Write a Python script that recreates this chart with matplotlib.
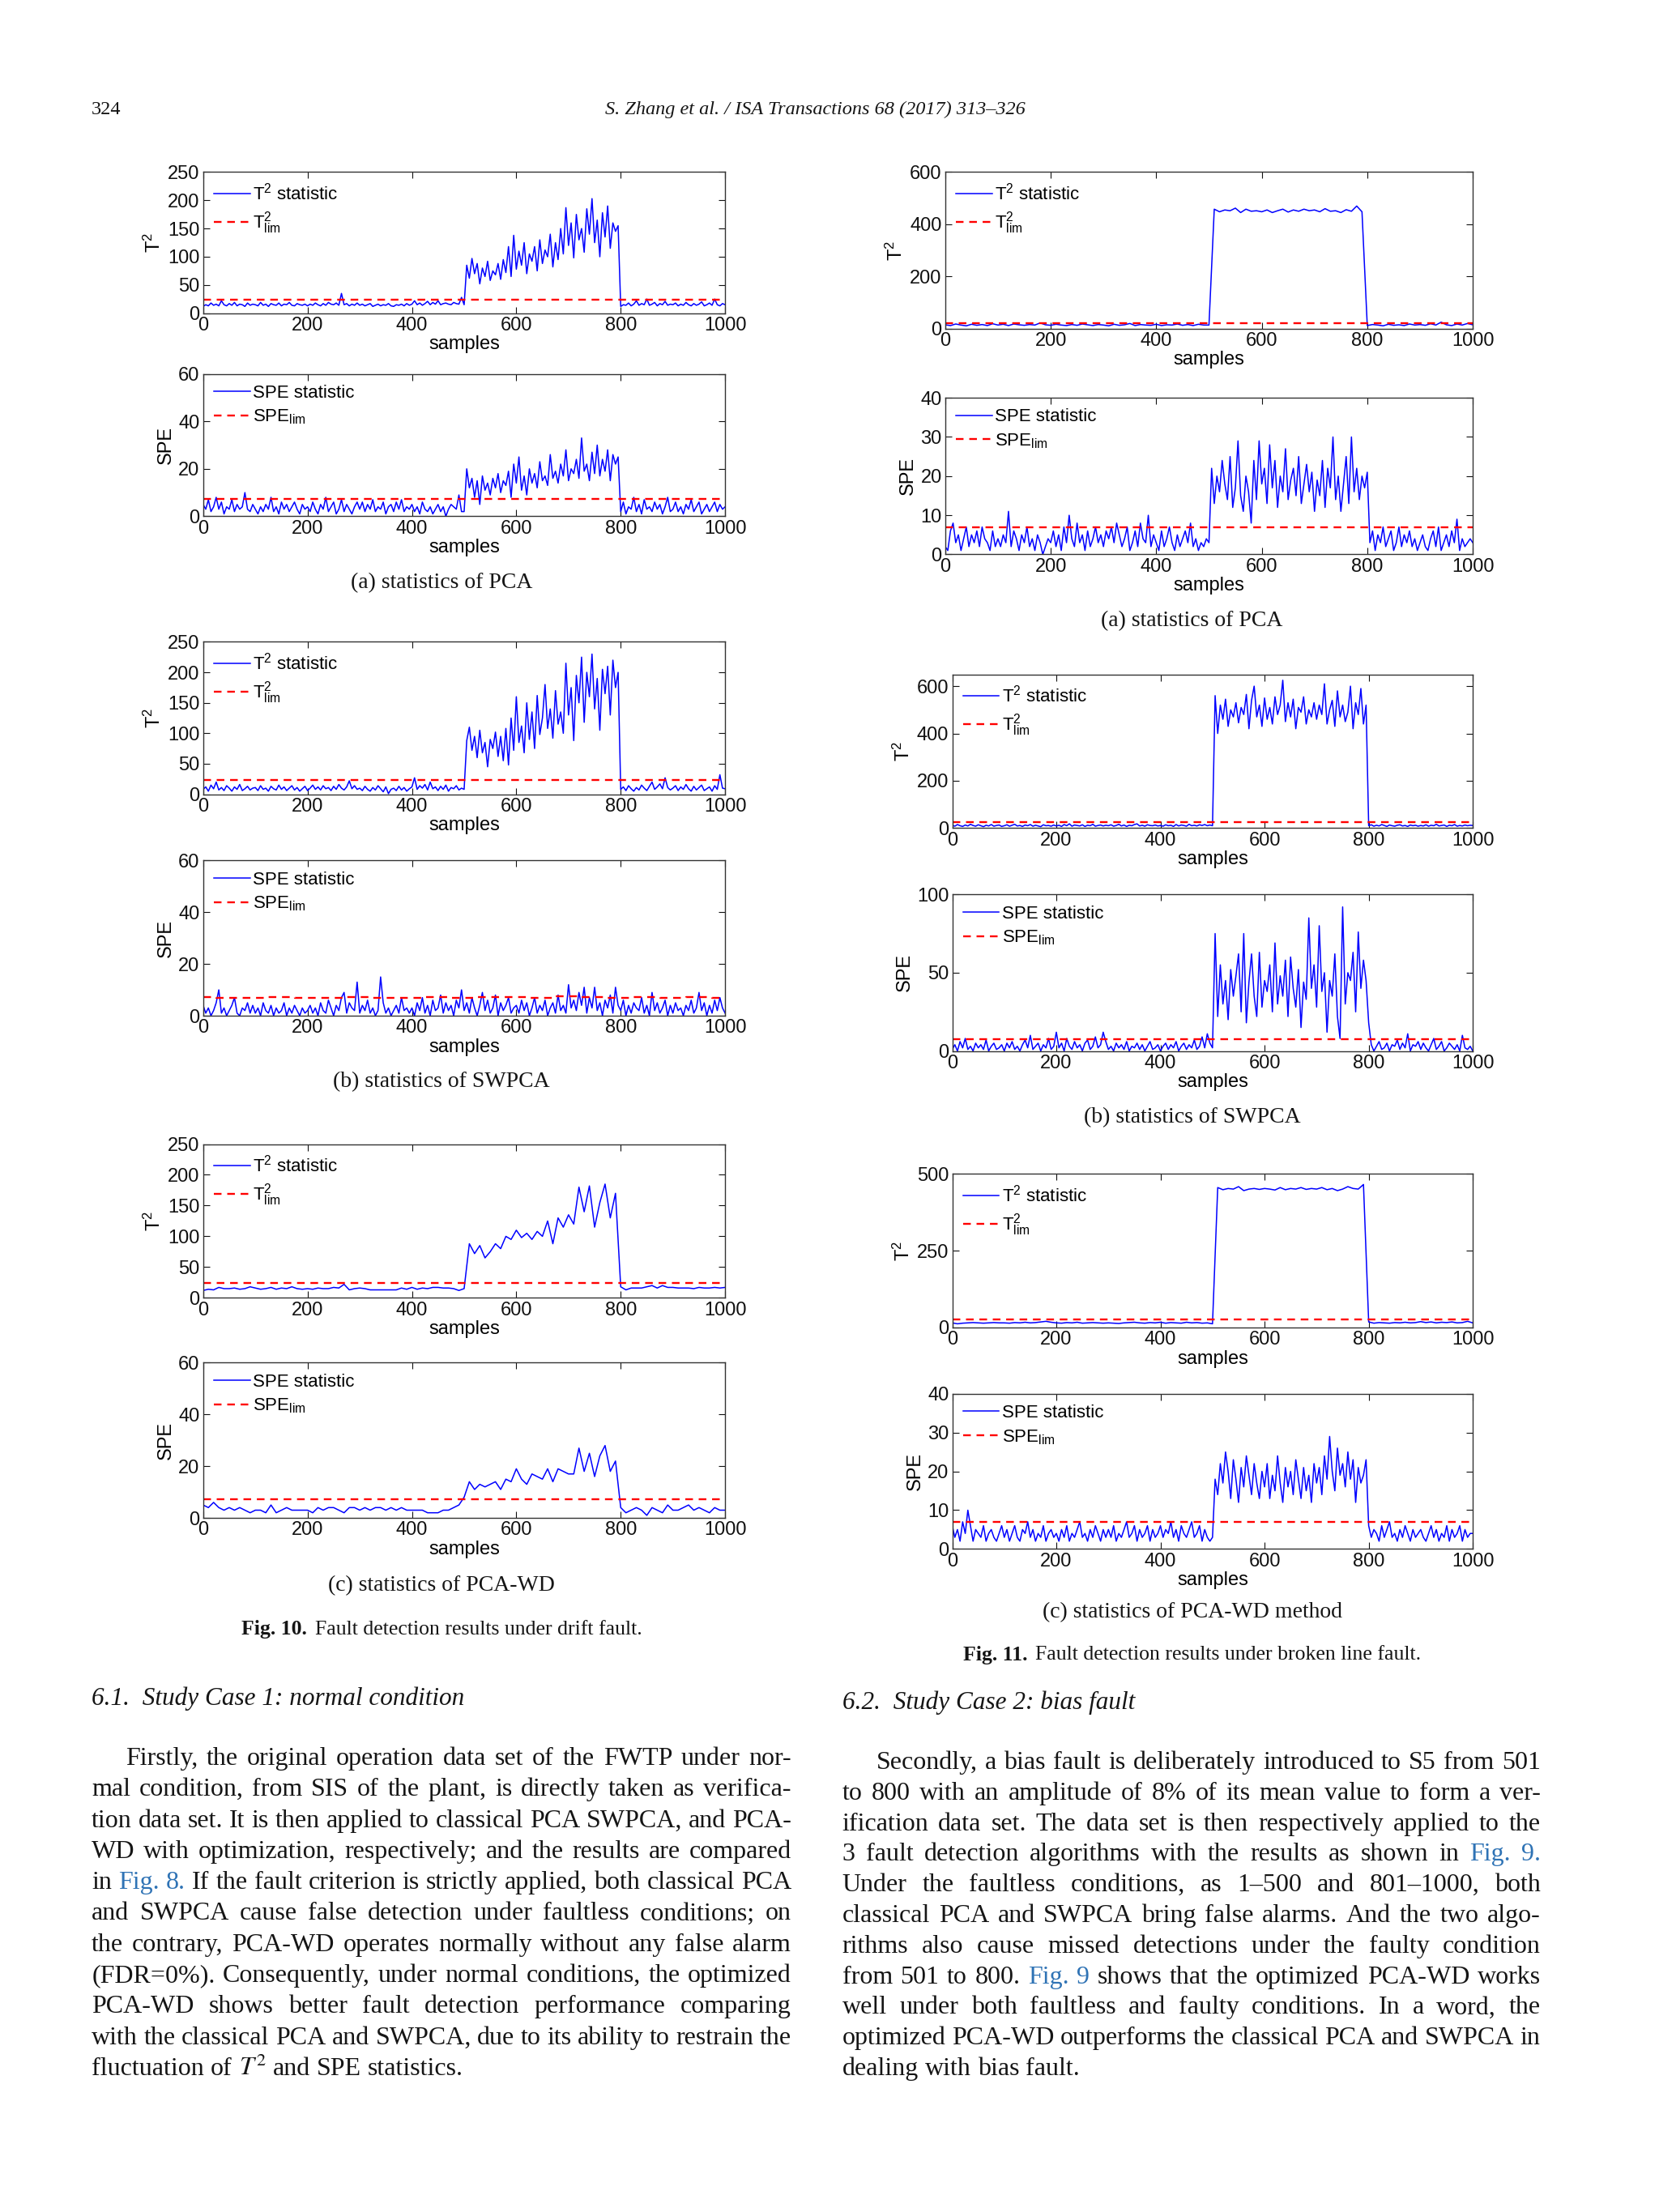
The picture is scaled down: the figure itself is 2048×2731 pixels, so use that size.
import numpy as np
import matplotlib
matplotlib.use('Agg')
import matplotlib.pyplot as plt

plt.rcParams['font.family'] = ['Liberation Sans Narrow', 'Liberation Sans', 'DejaVu Sans']
plt.rcParams['mathtext.fontset'] = 'custom'
plt.rcParams['mathtext.rm'] = 'Liberation Sans'
plt.rcParams['mathtext.it'] = 'Liberation Sans:italic'

# ---------------- data ----------------
# fine series: one value every 5 samples, coarse: every 10 samples
fig10_pca_t2 = [
    12, 15, 13, 18, 14, 16, 13, 22, 15, 13, 17, 14, 19, 13, 16, 15, 12, 18, 14, 16,
    15, 13, 19, 14, 16, 12, 17, 15, 14, 18, 13, 16, 15, 19, 14, 13, 17, 15, 14, 16,
    13, 16, 14, 18, 15, 13, 17, 14, 19, 16, 15, 18, 14, 35, 15, 17, 13, 16, 14, 18,
    14, 16, 13, 15, 17, 12, 14, 16, 13, 15, 14, 17, 13, 12, 15, 14, 16, 13, 17, 14,
    16, 22, 15, 18, 14, 17, 21, 15, 19, 16, 22, 15, 17, 18, 16, 15, 19, 17, 16, 28,
    15, 85, 62, 97, 70, 88, 52, 80, 65, 92, 58, 75, 68, 88, 60, 95, 72, 118, 65, 138,
    78, 110, 85, 125, 70, 105, 92, 118, 75, 130, 88, 112, 100, 140, 82, 125, 95, 150, 105, 187,
    120, 160, 98, 175, 130, 150, 108, 185, 140, 203, 125, 165, 100, 178, 135, 190, 115, 160, 145, 155,
    12, 15, 14, 18, 13, 16, 22, 14, 17, 15, 25, 14, 16, 19, 13, 17, 15, 21, 14, 16,
    15, 18, 13, 16, 14, 19, 15, 13, 17, 14, 16, 20, 13, 15, 18, 14, 25, 15, 13, 17,
    15]
fig10_pca_spe = [
    5, 3, 7, 2, 4, 8, 3, 6, 1, 4, 3, 7, 2, 5, 3, 4, 10, 3, 2, 5,
    3, 1, 4, 2, 5, 3, 8, 2, 4, 1, 6, 3, 5, 2, 4, 6, 3, 1, 5, 3,
    4, 2, 6, 3, 1, 5, 3, 8, 2, 4, 6, 1, 3, 7, 2, 5, 3, 1, 4, 6,
    3, 6, 2, 5, 3, 7, 2, 4, 3, 6, 1, 4, 5, 2, 6, 3, 7, 2, 4, 3,
    5, 2, 4, 1, 6, 3, 2, 4, 1, 3, 5, 2, 4, 0, 3, 5, 4, 3, 9, 2,
    2, 20, 12, 16, 8, 15, 5, 17, 11, 14, 9, 16, 12, 18, 10, 15, 13, 19, 8, 22,
    14, 25, 11, 17, 9, 20, 14, 18, 12, 23, 15, 17, 13, 26, 16, 19, 14, 22, 17, 28,
    15, 20, 18, 24, 16, 33, 19, 22, 15, 27, 18, 30, 17, 24, 19, 28, 15, 26, 22, 25,
    2, 6, 1, 4, 3, 8, 2, 5, 1, 7, 3, 4, 2, 6, 3, 5, 1, 4, 8, 2,
    3, 6, 2, 4, 1, 5, 3, 7, 2, 4, 6, 1, 3, 5, 2, 4, 6, 2, 5, 3,
    4]
fig10_swpca_t2 = [
    8, 12, 5, 15, 9, 20, 7, 11, 6, 14, 10, 5, 12, 8, 16, 6, 9, 13, 7, 10,
    11, 6, 14, 8, 10, 5, 13, 9, 7, 15, 8, 12, 6, 10, 14, 7, 11, 5, 9, 13,
    6, 10, 15, 8, 12, 7, 14, 9, 11, 6, 13, 8, 16, 10, 7, 12, 22, 9, 14, 8,
    10, 6, 13, 8, 5, 11, 7, 14, 9, 4, 12, 1, 8, 10, 6, 13, 7, 11, 5, 9,
    12, 27, 8, 14, 10, 16, 7, 20, 9, 12, 6, 13, 8, 15, 5, 11, 9, 14, 7, 10,
    8, 88, 110, 72, 95, 60, 105, 68, 85, 45, 90, 75, 102, 62, 95, 55, 108, 48, 125, 72,
    160, 85, 112, 68, 150, 90, 135, 75, 162, 98, 125, 180, 108, 140, 92, 170, 115, 135, 100, 215,
    130, 175, 88, 195, 150, 225, 118, 200, 160, 230, 140, 190, 105, 205, 165, 210, 130, 220, 175, 200,
    8, 12, 6, 14, 9, 5, 11, 7, 15, 10, 6, 13, 20, 8, 12, 17, 9, 27, 11, 7,
    10, 14, 6, 12, 8, 16, 9, 5, 13, 7, 11, 15, 6, 9, 12, 5, 14, 8, 32, 10,
    9]
fig10_swpca_spe = [
    4, 1, 3, 0, 2, 5, 10, 1, 3, 0, 2, 4, 7, 1, 0, 3, 2, 5, 1, 4,
    1, 3, 0, 5, 2, 1, 4, 0, 3, 1, 2, 5, 0, 3, 1, 4, 2, 0, 3, 1,
    2, 4, 1, 3, 0, 5, 2, 1, 6, 3, 0, 4, 2, 7, 9, 1, 5, 3, 2, 13,
    1, 4, 2, 6, 1, 3, 0, 2, 15, 5, 1, 3, 0, 2, 4, 1, 7, 2, 3, 1,
    3, 0, 5, 2, 7, 1, 4, 0, 6, 2, 3, 8, 1, 5, 2, 4, 0, 6, 3, 10,
    2, 5, 1, 7, 3, 0, 4, 9, 2, 6, 1, 3, 8, 0, 5, 2, 4, 7, 1, 3,
    4, 1, 6, 2, 5, 0, 3, 7, 1, 4, 2, 6, 0, 3, 5, 1, 8, 2, 4, 1,
    12, 3, 6, 2, 9, 4, 11, 1, 7, 3, 11, 2, 5, 0, 6, 3, 8, 1, 11, 4,
    2, 6, 0, 4, 1, 5, 3, 2, 7, 1, 4, 0, 9, 2, 5, 1, 3, 6, 0, 4,
    1, 5, 2, 3, 0, 4, 2, 6, 1, 3, 9, 2, 5, 0, 4, 1, 6, 2, 7, 3,
    1]
fig10_swpca_spe_lim = [7.3, 7.0, 6.8, 7.2, 7.0, 6.8, 7.3, 7.0, 6.9, 7.2, 7.0,
                       7.3, 7.1, 7.0, 7.4, 7.2, 6.8, 7.1, 6.9, 7.2, 7.0]  # every 50 samples
fig10_wd_t2 = [
    12, 14, 13, 17, 15, 15, 16, 14, 15, 18,
    16, 14, 15, 17, 14, 16, 15, 18, 15, 14,
    15, 14, 16, 15, 15, 17, 16, 22, 13, 15,
    16, 15, 13, 13, 13, 13, 13, 13, 16, 14,
    17, 14, 16, 15, 17, 17, 16, 16, 15, 12,
    15, 88, 72, 85, 65, 75, 88, 80, 100, 95,
    110, 98, 105, 95, 108, 100, 125, 88, 130, 115,
    135, 120, 180, 140, 182, 115, 155, 185, 130, 170,
    18, 13, 16, 16, 16, 18, 20, 16, 20, 17,
    17, 16, 16, 16, 15, 17, 16, 16, 17, 16,
    17]
fig10_wd_spe = [
    5, 4, 6, 4, 3, 4, 3, 4, 3, 2,
    3, 3, 2, 5, 2, 3, 4, 3, 3, 3,
    3, 2, 4, 3, 4, 4, 3, 2, 4, 4,
    3, 4, 3, 4, 4, 3, 4, 3, 4, 3,
    3, 3, 3, 2, 2, 2, 3, 3, 4, 5,
    8, 14, 11, 13, 12, 13, 14, 11, 15, 14,
    19, 15, 13, 17, 16, 15, 19, 14, 19, 18,
    17, 17, 27, 18, 25, 16, 24, 28, 18, 22,
    4, 2, 3, 4, 3, 1, 4, 3, 2, 5,
    3, 3, 4, 5, 3, 4, 3, 2, 4, 3,
    3]

fig11_pca_t2 = [
    15, 12, 18, 14, 11, 17, 13, 16, 12, 19,
    14, 17, 12, 18, 15, 13, 16, 14, 22, 15,
    13, 17, 14, 12, 16, 13, 18, 15, 12, 16,
    14, 11, 17, 13, 15, 20, 12, 16, 14, 13,
    17, 12, 15, 14, 18, 13, 16, 12, 17, 14,
    14, 458, 448, 455, 452, 462, 445, 458, 450, 452,
    448, 455, 445, 452, 458, 447, 455, 450, 458, 452,
    455, 448, 460, 450, 452, 445, 456, 450, 470, 448,
    12, 16, 14, 11, 17, 13, 15, 12, 18, 14,
    16, 13, 19, 14, 25, 15, 12, 18, 14, 20,
    15]
fig11_pca_spe = [
    2, 1, 6, 8, 3, 5, 1, 4, 7, 2, 5, 3, 6, 2, 7, 4, 3, 1, 6, 2,
    4, 2, 5, 3, 11, 2, 6, 4, 1, 5, 3, 7, 2, 4, 1, 5, 3, 0, 2, 4,
    3, 6, 2, 5, 1, 7, 3, 10, 4, 2, 8, 3, 5, 1, 6, 2, 4, 7, 3, 5,
    2, 6, 4, 7, 3, 8, 5, 2, 4, 7, 1, 3, 6, 2, 8, 4, 3, 10, 2, 5,
    3, 1, 6, 2, 4, 7, 3, 1, 5, 2, 4, 6, 3, 8, 2, 4, 1, 3, 2, 4,
    3, 22, 13, 20, 16, 24, 18, 14, 25, 12, 17, 29, 15, 11, 20, 16, 8, 24, 14, 29,
    18, 22, 13, 28, 17, 24, 12, 20, 16, 27, 14, 19, 22, 15, 25, 13, 18, 23, 16, 21,
    11, 19, 15, 24, 12, 22, 17, 30, 14, 20, 11, 18, 25, 13, 30, 16, 22, 14, 20, 17,
    21, 3, 6, 1, 5, 3, 7, 2, 4, 6, 1, 3, 7, 2, 5, 3, 6, 2, 4, 1,
    3, 5, 2, 1, 4, 6, 2, 7, 1, 3, 5, 2, 6, 3, 9, 1, 4, 2, 3, 4,
    3]
fig11_swpca_t2 = [
    12, 8, 15, 10, 7, 13, 9, 16, 11, 8, 14, 10, 6, 12, 9, 15, 8, 11, 13, 7,
    10, 14, 8, 12, 16, 9, 11, 7, 13, 10, 15, 8, 12, 9, 6, 14, 10, 11, 8, 13,
    9, 12, 7, 15, 10, 18, 8, 13, 11, 9, 14, 7, 12, 10, 16, 8, 11, 13, 9, 12,
    10, 14, 8, 11, 16, 9, 13, 7, 12, 10, 15, 18, 9, 12, 8, 14, 11, 10, 13, 9,
    11, 8, 14, 10, 12, 7, 15, 9, 13, 11, 8, 16, 10, 12, 9, 14, 11, 15, 10, 13,
    10, 560, 400, 520, 460, 545, 430, 500, 470, 530, 445, 510, 480, 565, 420, 540, 600, 470, 520, 430,
    550, 460, 510, 440, 555, 480, 520, 625, 450, 530, 470, 545, 420, 510, 490, 555, 440, 500, 470, 530,
    460, 520, 480, 610, 440, 500, 540, 430, 580, 470, 520, 450, 490, 600, 420, 530, 480, 590, 440, 520,
    10, 14, 8, 12, 9, 15, 11, 7, 13, 10, 8, 12, 14, 9, 11, 7, 13, 10, 12, 8,
    11, 9, 14, 8, 12, 10, 16, 9, 11, 13, 7, 12, 10, 15, 8, 11, 9, 13, 10, 12,
    11]
fig11_swpca_spe = [
    1, 4, 0, 6, 2, 8, 1, 3, 0, 5, 2, 4, 1, 7, 0, 3, 5, 1, 2, 4,
    0, 5, 2, 6, 1, 3, 0, 4, 7, 2, 10, 1, 3, 5, 0, 4, 2, 8, 1, 3,
    12, 2, 5, 0, 8, 3, 1, 6, 2, 4, 0, 5, 7, 1, 3, 9, 2, 4, 12, 6,
    1, 3, 0, 5, 2, 4, 1, 6, 0, 3, 2, 5, 1, 4, 0, 3, 6, 1, 2, 4,
    0, 3, 5, 1, 4, 2, 6, 0, 3, 5, 1, 4, 2, 7, 1, 3, 9, 2, 11, 5,
    2, 75, 22, 55, 30, 45, 20, 52, 35, 48, 62, 25, 75, 18, 44, 62, 35, 22, 63, 28,
    45, 38, 55, 25, 69, 30, 48, 35, 58, 22, 60, 40, 28, 52, 15, 44, 33, 85, 40, 55,
    28, 80, 38, 50, 12, 45, 35, 62, 22, 8, 92, 30, 50, 45, 63, 25, 76, 40, 58, 45,
    18, 4, 0, 3, 6, 1, 2, 5, 0, 4, 3, 7, 1, 5, 2, 11, 0, 4, 3, 6,
    1, 5, 2, 0, 4, 8, 1, 3, 6, 0, 2, 5, 3, 1, 4, 0, 10, 2, 1, 3,
    0]
fig11_wd_t2 = [
    15, 12, 14, 15, 16, 15, 14, 15, 16, 15,
    15, 14, 16, 15, 17, 15, 16, 18, 20, 17,
    15, 14, 16, 15, 17, 14, 15, 16, 15, 14,
    15, 14, 13, 15, 16, 17, 15, 14, 16, 15,
    17, 14, 16, 15, 14, 17, 15, 16, 14, 15,
    12, 455, 448, 452, 450, 458, 445, 450, 452, 449,
    452, 450, 447, 455, 448, 452, 450, 455, 449, 452,
    450, 455, 448, 452, 445, 450, 458, 452, 450, 465,
    18, 14, 16, 15, 14, 16, 15, 17, 15, 16,
    19, 16, 18, 15, 17, 16, 18, 15, 16, 20,
    15]
fig11_wd_spe = [
    6, 3, 5, 2, 7, 4, 10, 6, 2, 5, 4, 3, 6, 2, 4, 5, 3, 2, 4, 6,
    3, 5, 2, 4, 6, 3, 2, 5, 4, 7, 3, 5, 2, 4, 3, 6, 2, 4, 5, 3,
    4, 2, 5, 3, 6, 2, 4, 3, 5, 7, 3, 4, 2, 5, 3, 6, 4, 2, 5, 3,
    5, 3, 6, 2, 4, 3, 5, 7, 3, 4, 6, 2, 5, 3, 4, 6, 2, 5, 3, 4,
    6, 3, 5, 4, 7, 3, 5, 2, 6, 4, 3, 5, 7, 3, 4, 6, 2, 5, 3, 2,
    3, 18, 14, 22, 17, 25, 20, 13, 23, 18, 12, 21, 16, 24, 19, 14, 22, 17, 13, 20,
    16, 22, 13, 19, 15, 24, 17, 12, 21, 16, 20, 14, 23, 18, 13, 21, 15, 19, 12, 22,
    17, 21, 14, 24, 18, 29, 20, 15, 26, 19, 22, 16, 25, 18, 23, 12, 21, 17, 19, 23,
    6, 3, 5, 4, 2, 6, 3, 5, 7, 3, 4, 2, 5, 3, 6, 4, 2, 5, 3, 4,
    5, 3, 2, 4, 6, 3, 5, 2, 4, 3, 6, 2, 5, 3, 4, 6, 2, 5, 3, 4,
    4]

left_captions = ['(a) statistics of PCA', '(b) statistics of SWPCA', '(c) statistics of PCA-WD']
right_captions = ['(a) statistics of PCA', '(b) statistics of SWPCA', '(c) statistics of PCA-WD method']

left_text = [
    "Firstly, the original operation data set of the FWTP under nor-",
    "mal condition, from SIS of the plant, is directly taken as verifica-",
    "tion data set. It is then applied to classical PCA SWPCA, and PCA-",
    "WD with optimization, respectively; and the results are compared",
    "in @Fig. @8. If the fault criterion is strictly applied, both classical PCA",
    "and SWPCA cause false detection under faultless conditions; on",
    "the contrary, PCA-WD operates normally without any false alarm",
    "(FDR=0%). Consequently, under normal conditions, the optimized",
    "PCA-WD shows better fault detection performance comparing",
    "with the classical PCA and SWPCA, due to its ability to restrain the",
    "fluctuation of $T^2$ and SPE statistics.",
]
right_text = [
    "Secondly, a bias fault is deliberately introduced to S5 from 501",
    "to 800 with an amplitude of 8% of its mean value to form a ver-",
    "ification data set. The data set is then respectively applied to the",
    "3 fault detection algorithms with the results as shown in @Fig. @9.",
    "Under the faultless conditions, as 1\u2013500 and 801\u20131000, both",
    "classical PCA and SWPCA bring false alarms. And the two algo-",
    "rithms also cause missed detections under the faulty condition",
    "from 501 to 800. @Fig. @9 shows that the optimized PCA-WD works",
    "well under both faultless and faulty conditions. In a word, the",
    "optimized PCA-WD outperforms the classical PCA and SWPCA in",
    "dealing with bias fault.",
]

# ---------------- layout ----------------
W, H = 1176.0, 1568.0          # layout units of the page
S = 2048.0 / W                 # figure pixels per layout unit
fig = plt.figure(figsize=(20.48, 27.31), dpi=100)
fig.patch.set_facecolor('white')
renderer = fig.canvas.get_renderer()
SERIF = 'Liberation Serif'
INK = '#151515'
LINK = '#2f73b5'


def fx(u):
    return u / W


def fy(v):
    return 1 - v / H


def text_w(s, **kw):
    t = fig.text(0, 0, s, **kw)
    w = t.get_window_extent(renderer).width / S
    t.remove()
    return w


def panel(rect, values, step, lim, kind, ymax, yticks, lim_step=None):
    l, t, r, b = rect
    ax = fig.add_axes([fx(l), fy(b), (r - l) / W, (b - t) / H])
    x = np.arange(len(values)) * step
    if kind == 'T2':
        stat_lbl, lim_lbl, ylbl = r'T$^2$ statistic', r'T$^2_{\rm lim}$', r'T$^2$'
    else:
        stat_lbl, lim_lbl, ylbl = 'SPE statistic', r'SPE$_{\rm lim}$', 'SPE'
    ax.plot(x, values, color='#0000ff', lw=1.1, label=stat_lbl)
    if lim_step is None:
        ax.axhline(lim, color='#ff0000', lw=1.7, ls=(0, (4, 3)), label=lim_lbl)
    else:
        ax.plot(np.arange(len(lim)) * lim_step, lim, color='#ff0000', lw=1.7,
                ls=(0, (4, 3)), drawstyle='steps-mid', label=lim_lbl)
    ax.set_xlim(0, 1000)
    ax.set_ylim(0, ymax)
    ax.set_xticks(np.arange(0, 1001, 200))
    ax.set_yticks(yticks)
    ax.tick_params(direction='in', top=True, right=True, length=6, width=0.8,
                   labelsize=17, pad=3, colors='#111111')
    for sp in ax.spines.values():
        sp.set_color('#333333')
        sp.set_linewidth(1.0)
    ax.set_xlabel('samples', fontsize=17, labelpad=1)
    ax.set_ylabel(ylbl, fontsize=17, labelpad=3)
    ax.legend(loc='upper left', frameon=False, fontsize=16, handlelength=2.0,
              handletextpad=0.15, labelspacing=0.35, borderaxespad=0.3, borderpad=0.3)
    return ax


# Fig. 10 (left column)
panel((144, 122, 514, 222), fig10_pca_t2, 5, 24, 'T2', 250, np.arange(0, 251, 50))
panel((144, 265, 514, 366), fig10_pca_spe, 5, 7.2, 'SPE', 60, np.arange(0, 61, 20))
panel((144, 455, 514, 563), fig10_swpca_t2, 5, 24, 'T2', 250, np.arange(0, 251, 50))
panel((144, 610, 514, 720), fig10_swpca_spe, 5, fig10_swpca_spe_lim, 'SPE', 60,
      np.arange(0, 61, 20), lim_step=50)
panel((144, 811, 514, 920), fig10_wd_t2, 10, 24, 'T2', 250, np.arange(0, 251, 50))
panel((144, 966, 514, 1076), fig10_wd_spe, 10, 7.2, 'SPE', 60, np.arange(0, 61, 20))

# Fig. 11 (right column)
panel((670, 122, 1044, 233), fig11_pca_t2, 10, 22, 'T2', 600, np.arange(0, 601, 200))
panel((670, 282, 1044, 393), fig11_pca_spe, 5, 7, 'SPE', 40, np.arange(0, 41, 10))
panel((675, 478, 1044, 587), fig11_swpca_t2, 5, 25, 'T2', 650, np.arange(0, 601, 200))
panel((675, 634, 1044, 745), fig11_swpca_spe, 5, 7.5, 'SPE', 100, np.arange(0, 101, 50))
panel((675, 832, 1044, 941), fig11_wd_t2, 10, 25, 'T2', 500, np.arange(0, 501, 250))
panel((675, 988, 1044, 1098), fig11_wd_spe, 5, 7, 'SPE', 40, np.arange(0, 41, 10))

# sub-captions
for cap, y in zip(left_captions, [413, 767, 1124]):
    fig.text(fx(313), fy(y), cap, family=SERIF, size=20, ha='center', va='center', color=INK)
for cap, y in zip(right_captions, [440, 792, 1143]):
    fig.text(fx(845), fy(y), cap, family=SERIF, size=20, ha='center', va='center', color=INK)


def fig_caption(cx, cy, bold, rest, size=18.5):
    wb = text_w(bold, family=SERIF, size=size, weight='bold')
    wr = text_w(rest, family=SERIF, size=size)
    gap = text_w('a a', family=SERIF, size=size) - text_w('aa', family=SERIF, size=size)
    x0 = cx - (wb + 1.6 * gap + wr) / 2
    fig.text(fx(x0), fy(cy), bold, family=SERIF, size=size, weight='bold', va='center', color=INK)
    fig.text(fx(x0 + wb + 1.6 * gap), fy(cy), rest, family=SERIF, size=size, va='center', color=INK)


fig_caption(313, 1155, 'Fig. 10.', 'Fault detection results under drift fault.')
fig_caption(845, 1173, 'Fig. 11.', 'Fault detection results under broken line fault.')

# running head
fig.text(fx(65), fy(78), '324', family=SERIF, size=17.5, va='center', color=INK)
fig.text(fx(578), fy(78), 'S. Zhang et al. / ISA Transactions 68 (2017) 313\u2013326',
         family=SERIF, style='italic', size=17.5, ha='center', va='center', color=INK)

# section headings
fig.text(fx(65), fy(1204), '6.1.  Study Case 1: normal condition', family=SERIF,
         style='italic', size=22.5, va='center', color=INK)
fig.text(fx(597), fy(1207), '6.2.  Study Case 2: bias fault', family=SERIF,
         style='italic', size=22.5, va='center', color=INK)


def justify(lines, left, right, y0, dy, indent, size=23):
    kw = dict(family=SERIF, size=size, math_fontfamily='stix')
    space = text_w('a a', **kw) - text_w('aa', **kw)
    for i, line in enumerate(lines):
        words = line.split(' ')
        colors = [LINK if w.startswith('@') else INK for w in words]
        words = [w.lstrip('@') for w in words]
        widths = [text_w(w, **kw) for w in words]
        x = left + (indent if i == 0 else 0)
        if i == len(lines) - 1 or len(words) < 2:
            gap = space
        else:
            gap = (right - x - sum(widths)) / (len(words) - 1)
        y = y0 + i * dy
        for w, c, wd in zip(words, colors, widths):
            fig.text(fx(x), fy(y), w, va='baseline', color=c, **kw)
            x += wd + gap


justify(left_text, 65, 561, 1251, 22.0, 24)
justify(right_text, 597, 1092, 1254, 21.7, 24)

fig.savefig('out.png', dpi=100, facecolor='white')
